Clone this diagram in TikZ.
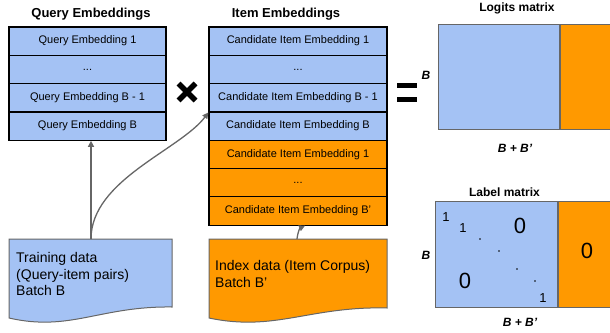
\documentclass[tikz,border=0pt]{standalone}
\usepackage{fontspec}
\setmainfont{Liberation Sans}
\usepackage{xcolor}
\usetikzlibrary{arrows.meta, calc, positioning}

\definecolor{rowblue}{HTML}{A4C2F4}
\definecolor{roworange}{HTML}{FF9900}
\definecolor{edgegray}{HTML}{666666}
\newcommand{\rowdots}{...}

\begin{document}
\begin{tikzpicture}[x=1pt, y=1pt,
        emb/.style={draw=black, line width=1.2pt, minimum width=#1, minimum height=28.3pt, inner sep=0pt, font=\fontsize{11}{13}\selectfont},
        title/.style={font=\fontsize{13}{15}\selectfont\bfseries},
        mattitle/.style={font=\fontsize{12}{14}\selectfont\bfseries},
        dim/.style={font=\fontsize{12}{14}\selectfont\bfseries\itshape},
        mat/.style={draw=edgegray, line width=1pt, inner sep=0pt},
        docshape/.style={draw=edgegray, line width=1pt},
        doctext/.style={align=left, inner sep=0pt, font=\fontsize{14}{16.5}\selectfont},
        link/.style={edgegray, line width=1.3pt, -{Triangle[length=6pt, width=6pt]}},
        bigzero/.style={font=\fontsize{22}{24}\selectfont},
        one/.style={font=\fontsize{13}{15}\selectfont}]

    \useasboundingbox (0,0) rectangle (610,-332);

    % stacks of embeddings
    \node[title] (qtitle) at (91,-14) {Query Embeddings};
    \node[title] (ititle) at (286,-14) {Item Embeddings};

    \foreach \lbl [count=\i] in {Query Embedding 1, \rowdots, Query Embedding B - 1, Query Embedding B} {
        \node[emb=157pt, fill=rowblue] (q\i) at (87.5, {-41.15 - 28.3*(\i-1)}) {\lbl};
    }

    \foreach \lbl/\col [count=\i] in {Candidate Item Embedding 1/rowblue, \rowdots/rowblue, Candidate Item Embedding B - 1/rowblue, Candidate Item Embedding B/rowblue, Candidate Item Embedding 1/roworange, \rowdots/roworange, Candidate Item Embedding B’/roworange} {
        \node[emb=178pt, fill=\col] (it\i) at (298, {-41.15 - 28.3*(\i-1)}) {\lbl};
    }

    % times and equals
    \draw[line width=5.5pt] (178.5,-83.5) -- (195.5,-100.5) (178.5,-100.5) -- (195.5,-83.5);
    \draw[line width=5pt] (397,-85.5) -- (417,-85.5) (397,-99.5) -- (417,-99.5);

    % logits matrix
    \node[mattitle] (lgtitle) at (517,-8) {Logits matrix};
    \node[mat, fill=rowblue, minimum width=121pt, minimum height=105pt] (lgblue) at (498.5,-76.5) {};
    \node[mat, fill=roworange, minimum width=56pt, minimum height=105pt, anchor=west] (lgorange) at (lgblue.east) {};
    \node[dim] (lgrows) at (426,-75) {B};
    \node[dim] (lgcols) at (515,-148) {B + B’};

    % label matrix
    \node[mattitle] (lbtitle) at (504.5,-192) {Label matrix};
    \node[mat, fill=rowblue, minimum width=122pt, minimum height=106pt] (lbblue) at (496,-254) {};
    \node[mat, fill=roworange, minimum width=58pt, minimum height=106pt, anchor=west] (lborange) at (lbblue.east) {};
    \node[dim] (lbrows) at (426,-255) {B};
    \node[dim] (lbcols) at (520,-322) {B + B’};

    \node[one] (diag1) at (446,-217) {1};
    \node[one] (diag2) at (463,-228) {1};
    \node[one] (diag3) at (543,-298) {1};
    \foreach \x/\y in {480/-239, 499/-251, 517/-269, 535/-281} {
        \fill (\x,\y) circle (0.9pt);
    }
    \node[bigzero] (zup) at (520,-226) {0};
    \node[bigzero] (zlow) at (465,-281) {0};
    \node[bigzero] (zright) at (587,-251) {0};

    % input data
    \draw[docshape, fill=rowblue] (9,-239) -- (172,-239) -- (172,-307) .. controls (100,-306) and (70,-332) .. (9,-318) -- cycle;
    \draw[docshape, fill=roworange] (209,-239) -- (387,-239) -- (387,-308) .. controls (310,-306) and (275,-332) .. (209,-318) -- cycle;
    \coordinate (traintop) at (91,-239);
    \coordinate (indextop) at (297,-239);
    \node[doctext, anchor=west] (train) at (16,-274) {Training data\\(Query-item pairs)\\Batch B};
    \node[doctext, anchor=west] (index) at (215,-274) {Index data (Item Corpus)\\Batch B’};

    \draw[link] (traintop) -- (traintop |- q4.south);
    \draw[link] (traintop) .. controls (91,-180) and (180,-150) .. (it3.south west);
    \draw[link] (indextop) .. controls (298,-231) and (300,-228) .. ($(it7.south)+(7,0)$);
\end{tikzpicture}
\end{document}
